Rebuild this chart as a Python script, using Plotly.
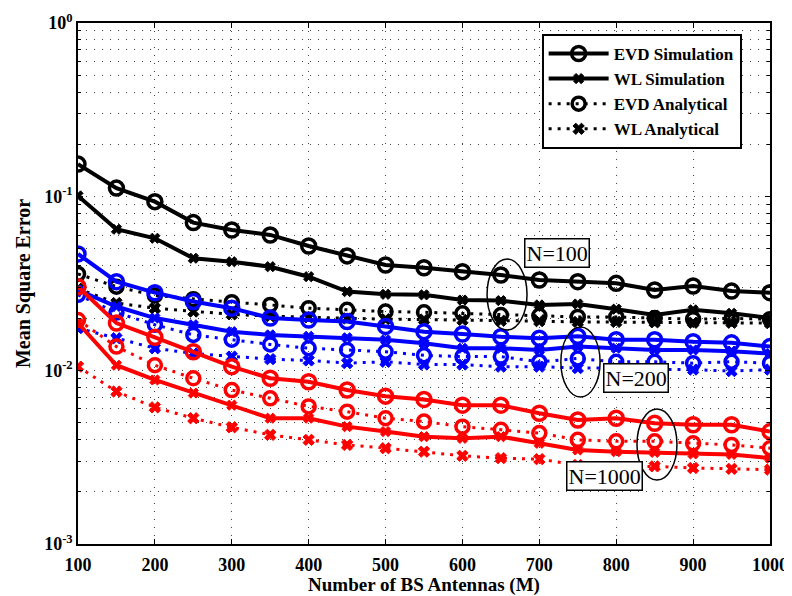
import plotly.graph_objects as go

M = [100, 150, 200, 250, 300, 350, 400, 450, 500, 550, 600, 650, 700, 750, 800, 850, 900, 950, 1000]

# N = 100 (black)
evd_sim_100 = [0.154, 0.112, 0.0936, 0.0709, 0.0643, 0.0602, 0.052, 0.0456, 0.0404, 0.039,
               0.037, 0.0354, 0.0331, 0.0324, 0.0317, 0.029, 0.0306, 0.0286, 0.028]
wl_sim_100 = [0.101, 0.0649, 0.0576, 0.0442, 0.0422, 0.0395, 0.0346, 0.0284, 0.0274, 0.0272,
              0.0254, 0.0252, 0.0238, 0.0241, 0.0225, 0.0208, 0.0223, 0.0213, 0.020]
evd_ana_100 = [0.0359, 0.0303, 0.027, 0.0257, 0.0247, 0.0238, 0.0228, 0.0223, 0.0218, 0.0216,
               0.0213, 0.0208, 0.0206, 0.0203, 0.0203, 0.020, 0.0197, 0.0199, 0.0197]
wl_ana_100 = [0.0295, 0.0244, 0.0228, 0.0218, 0.021, 0.0205, 0.0202, 0.0199, 0.0197, 0.0196,
              0.0195, 0.0193, 0.0192, 0.019, 0.019, 0.0189, 0.0188, 0.0188, 0.0187]

# N = 200 (blue)
evd_sim_200 = [0.0468, 0.0324, 0.028, 0.0249, 0.0228, 0.020, 0.0195, 0.0191, 0.0179, 0.0167,
               0.0162, 0.0156, 0.0153, 0.0157, 0.015, 0.015, 0.0146, 0.0144, 0.0137]
wl_sim_200 = [0.029, 0.0233, 0.020, 0.0183, 0.0167, 0.016, 0.0157, 0.0154, 0.015, 0.0143,
              0.0134, 0.0134, 0.0131, 0.0137, 0.0134, 0.0131, 0.0131, 0.0129, 0.0125]
evd_ana_200 = [0.0272, 0.0215, 0.0183, 0.016, 0.015, 0.0141, 0.0134, 0.0131, 0.0128, 0.0122,
               0.012, 0.012, 0.0112, 0.0117, 0.0112, 0.0112, 0.011, 0.0112, 0.011]
wl_ana_200 = [0.0175, 0.0153, 0.0134, 0.0125, 0.012, 0.0116, 0.0114, 0.011, 0.0112, 0.0108,
              0.0108, 0.0105, 0.0105, 0.0103, 0.0103, 0.0101, 0.0101, 0.0099, 0.0101]

# N = 1000 (red)
evd_sim_1000 = [0.0303, 0.0187, 0.0155, 0.0128, 0.0105, 0.009, 0.0086, 0.0077, 0.0071, 0.0068,
                0.0063, 0.0063, 0.00566, 0.00518, 0.0053, 0.00496, 0.00486, 0.00486, 0.00444]
wl_sim_1000 = [0.0187, 0.0107, 0.0088, 0.0074, 0.0063, 0.0053, 0.0053, 0.00474, 0.00444, 0.00415,
               0.00406, 0.00415, 0.0038, 0.00348, 0.0034, 0.00337, 0.0033, 0.00328, 0.00312]
evd_ana_1000 = [0.0195, 0.0137, 0.0107, 0.009, 0.0077, 0.0069, 0.0062, 0.00578, 0.0053, 0.00507,
                0.00474, 0.00455, 0.00435, 0.00398, 0.0039, 0.0039, 0.0038, 0.00372, 0.00356]
wl_ana_1000 = [0.0105, 0.00755, 0.00612, 0.0053, 0.0047, 0.00425, 0.00398, 0.00372, 0.00356, 0.0034,
               0.00322, 0.00312, 0.00308, 0.00285, 0.00278, 0.0028, 0.00274, 0.00271, 0.00268]

legend_names = ["EVD Simulation", "WL Simulation", "EVD Analytical", "WL Analytical"]
y_tick_vals = [1e-3, 1e-2, 1e-1, 1]
y_tick_text = ["10<sup>-3</sup>", "10<sup>-2</sup>", "10<sup>-1</sup>", "10<sup>0</sup>"]
x_tick_vals = [100, 200, 300, 400, 500, 600, 700, 800, 900, 1000]
y_minor_vals = [m * 10.0 ** e for e in (-3, -2, -1) for m in range(2, 10)]

FONT = "Liberation Serif"

groups = [
    ("black", [evd_sim_100, wl_sim_100, evd_ana_100, wl_ana_100], True),
    ("#0000ff", [evd_sim_200, wl_sim_200, evd_ana_200, wl_ana_200], False),
    ("#ff0000", [evd_sim_1000, wl_sim_1000, evd_ana_1000, wl_ana_1000], False),
]

styles = [
    dict(dash="solid", width=4, symbol="circle-open", size=14, mlw=3.5),
    dict(dash="solid", width=4, symbol="x", size=9, mlw=1),
    dict(dash="3px,6px", width=3, symbol="circle-open", size=13, mlw=3.5),
    dict(dash="3px,6px", width=3, symbol="x", size=10, mlw=1),
]

fig = go.Figure()
for color, series, show in groups:
    for i, ys in enumerate(series):
        st = styles[i]
        fig.add_trace(go.Scatter(
            x=M, y=ys, mode="lines+markers", name=legend_names[i],
            showlegend=show, legendrank=i + 1,
            line=dict(color=color, width=st["width"], dash=st["dash"]),
            marker=dict(symbol=st["symbol"], size=st["size"], color=color,
                        line=dict(color=color, width=st["mlw"])),
        ))

# plot area: top 23 px, height 521 px (page pixels) -> y domain fraction
def yd(px):
    return 1 - (px - 23) / 521.0

ellipses = [
    (632, 684, 259, 330),
    (728, 779, 327, 397),
    (827, 879, 409, 480),
]
for x0, x1, p0, p1 in ellipses:
    fig.add_shape(type="circle", xref="x", yref="y domain", x0=x0, x1=x1, y0=yd(p1), y1=yd(p0),
                  line=dict(color="black", width=1.5))

labels = [("N=100", 723.5, 253), ("N=200", 826, 392.5), ("N=1000", 785, 491)]
for txt, xx, py in labels:
    fig.add_annotation(x=xx, y=yd(py), xref="x", yref="y domain", text=txt, showarrow=False,
                       font=dict(family=FONT, size=22, color="black"),
                       bgcolor="white", bordercolor="black", borderwidth=1.5, borderpad=1)

grid = dict(showgrid=True, gridcolor="#444444", griddash="1px,7px", gridwidth=1)

# page has an 8px body margin: figure 784x588 placed at (8,8)
fig.update_layout(
    width=784, height=588,
    margin=dict(l=70, r=22, t=15, b=52, autoexpand=False),
    paper_bgcolor="white", plot_bgcolor="white",
    font=dict(family=FONT, size=18, color="black"),
    legend=dict(x=0.67, y=0.979, xanchor="left", yanchor="top",
                bgcolor="white", bordercolor="black", borderwidth=2,
                font=dict(family=FONT, size=17, color="black", weight="bold"),
                itemwidth=60, tracegroupgap=0),
    xaxis=dict(range=[100, 1000], tickvals=x_tick_vals, automargin=False,
               showline=True, linecolor="black", linewidth=1.5, mirror="allticks",
               ticks="inside", ticklen=5, tickcolor="black", ticklabelstandoff=4,
               zeroline=False, **grid,
               tickfont=dict(family=FONT, size=18, color="black", weight="bold"),
               title=dict(text="<b>Number of BS Antennas (M)</b>", standoff=10,
                          font=dict(family=FONT, size=19, color="black"))),
    yaxis=dict(type="log", range=[-3, 0], tickvals=y_tick_vals, ticktext=y_tick_text,
               automargin=False,
               showline=True, linecolor="black", linewidth=1.5, mirror="allticks",
               ticks="inside", ticklen=5, tickcolor="black",
               zeroline=False, **grid,
               minor=dict(tickmode="array", tickvals=y_minor_vals, ticks="inside", ticklen=3,
                          tickcolor="black", **grid),
               tickfont=dict(family=FONT, size=18, color="black", weight="bold"),
               title=dict(text="<b>Mean Square Error</b>", standoff=8,
                          font=dict(family=FONT, size=20, color="black"))),
)

fig.write_html("out.html")
